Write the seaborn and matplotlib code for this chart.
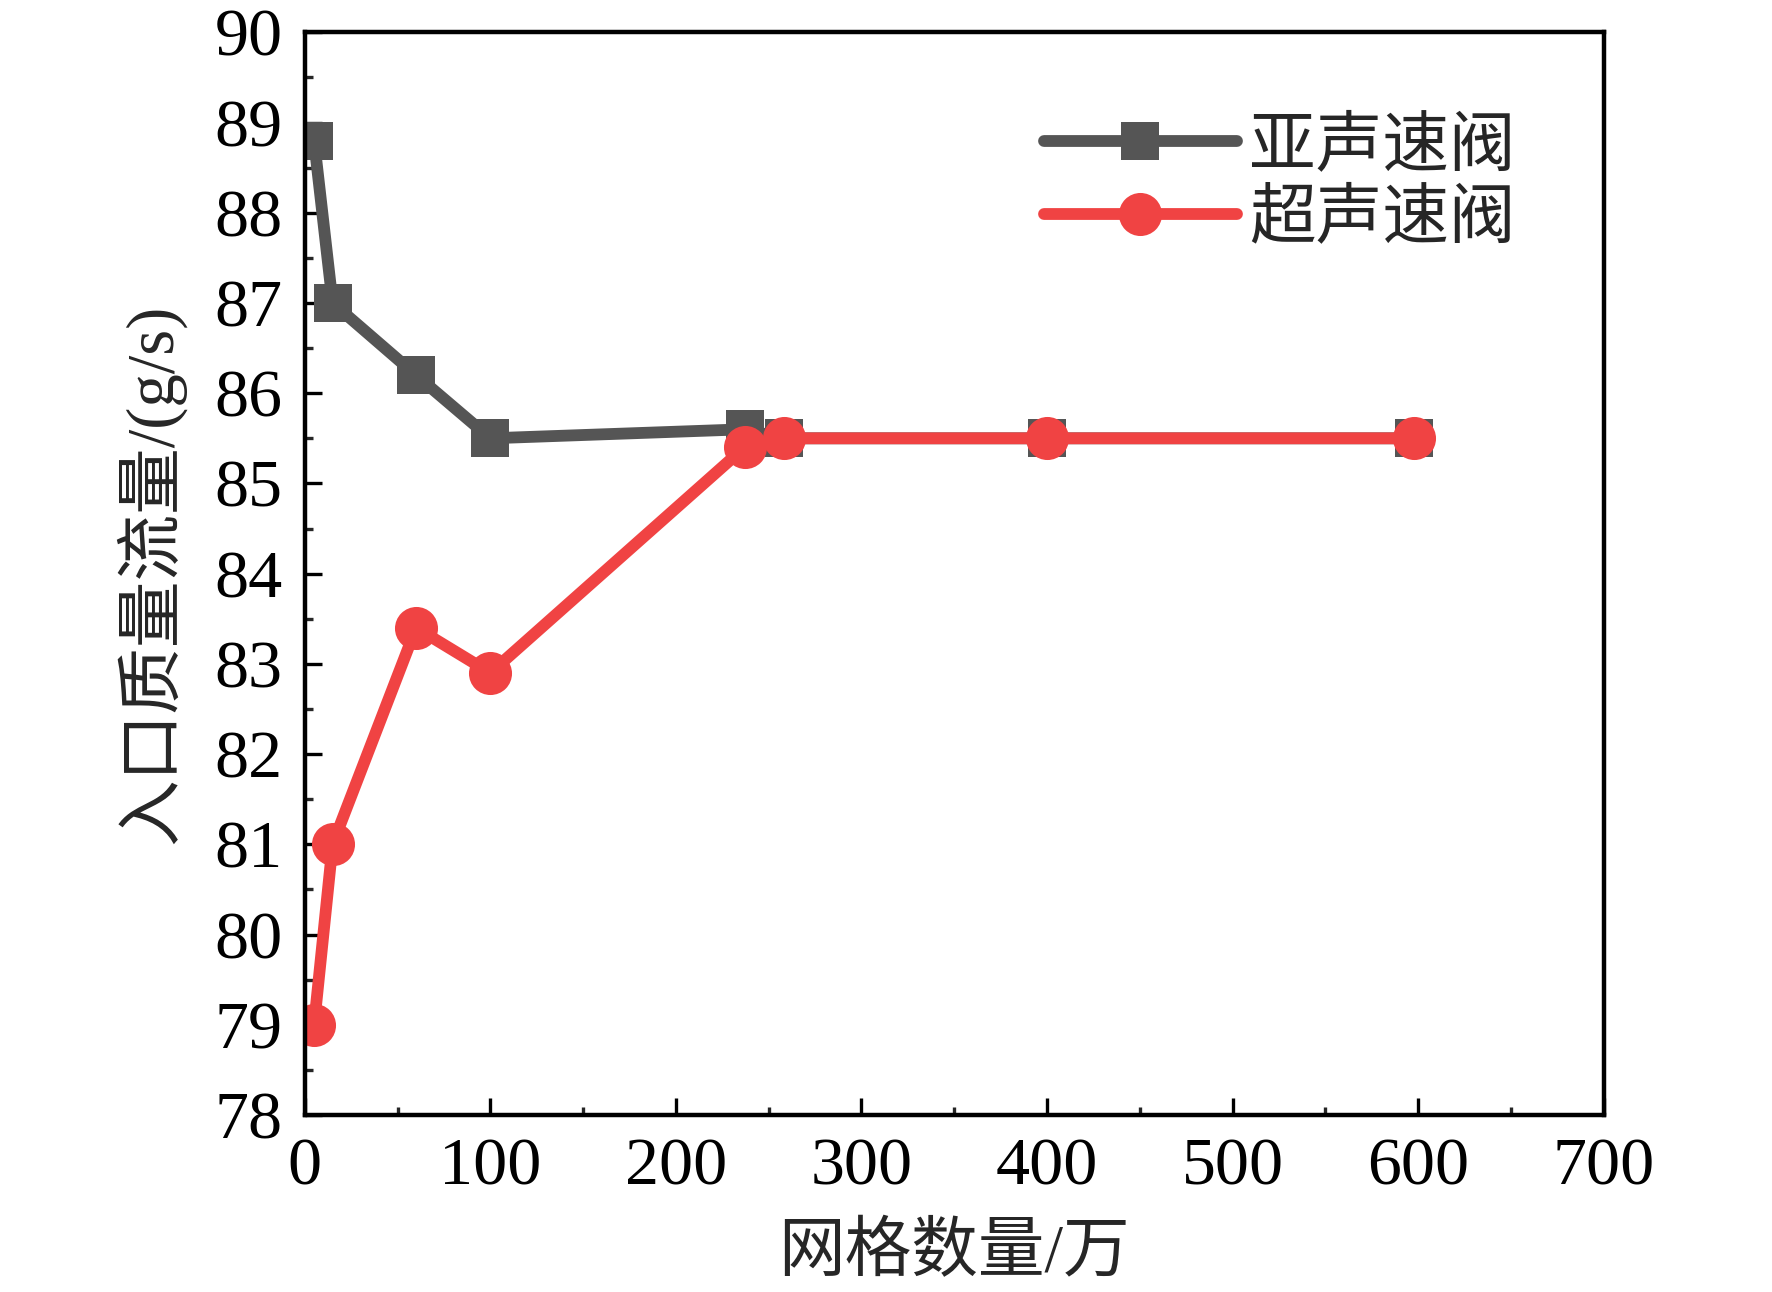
import seaborn as sns
import matplotlib.pyplot as plt
import pandas as pd
from matplotlib.ticker import MultipleLocator

# 网格数量 (万) 与 入口质量流量 (g/s)
grid_counts = [5, 15, 60, 100, 237, 258, 400, 598]
subsonic_flow = [88.8, 87.0, 86.2, 85.5, 85.6, 85.5, 85.5, 85.5]
supersonic_flow = [79.0, 81.0, 83.4, 82.9, 85.4, 85.5, 85.5, 85.5]
series_names = ["亚声速阀", "超声速阀"]

x_ticks = [0, 100, 200, 300, 400, 500, 600, 700]
y_ticks = [78, 79, 80, 81, 82, 83, 84, 85, 86, 87, 88, 89, 90]

df = pd.DataFrame({
    "grid": grid_counts * 2,
    "flow": subsonic_flow + supersonic_flow,
    "valve": [series_names[0]] * len(grid_counts) + [series_names[1]] * len(grid_counts),
})

sns.set_style("ticks")
plt.rcParams["font.family"] = ["Liberation Serif", "Noto Sans CJK SC"]
plt.rcParams["axes.unicode_minus"] = False

fig = plt.figure(figsize=(17.72, 12.92), dpi=100)
ax = fig.add_axes([0.172, 0.137, 0.733, 0.838])

styles = {
    series_names[0]: dict(color="#555555", marker="s", markersize=28),
    series_names[1]: dict(color="#F04343", marker="o", markersize=31),
}
for name in series_names:
    sub = df[df["valve"] == name]
    st = styles[name]
    sns.lineplot(
        data=sub, x="grid", y="flow", ax=ax, sort=False,
        color=st["color"], marker=st["marker"], markersize=st["markersize"],
        markeredgewidth=0, linewidth=8.5, label=name,
        solid_capstyle="round",
    )

ax.set_xlim(0, 700)
ax.set_ylim(78, 90)
ax.set_xticks(x_ticks)
ax.set_yticks(y_ticks)
ax.xaxis.set_minor_locator(MultipleLocator(50))
ax.yaxis.set_minor_locator(MultipleLocator(0.5))

for side in ["left", "bottom", "top", "right"]:
    ax.spines[side].set_linewidth(3.2)
    ax.spines[side].set_color("black")

ax.tick_params(which="major", direction="in", length=12, width=2.4,
               labelsize=49, pad=16, colors="black")
ax.tick_params(which="minor", direction="in", length=5.5, width=2.4)
ax.tick_params(top=False, right=False, which="both")

ax.set_xlabel("网格数量/万", fontsize=48, labelpad=18)
ax.set_ylabel("入口质量流量/(g/s)", fontsize=48)
ax.yaxis.set_label_coords(-0.092, 0.5)

leg = ax.legend(
    loc="upper left", bbox_to_anchor=(0.533, 0.965), frameon=False,
    fontsize=48, handlelength=2.9, handletextpad=0.18, labelspacing=0.16,
    numpoints=1, borderpad=0.2,
)

fig.savefig("out.png", dpi=100, facecolor="white")
plt.close(fig)
